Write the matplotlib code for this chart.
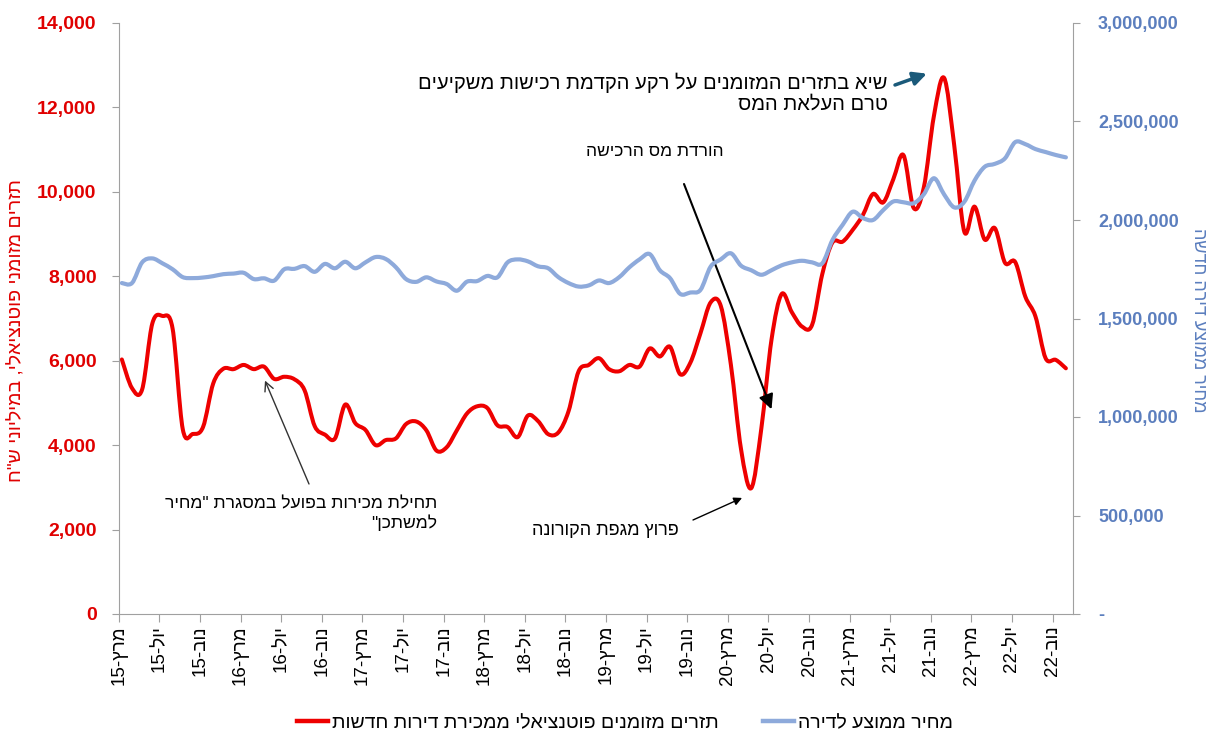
import re
import numpy as np
import matplotlib
matplotlib.use("Agg")
import matplotlib.pyplot as plt
from matplotlib.path import Path
from matplotlib.patches import PathPatch
from matplotlib.lines import Line2D
from matplotlib.ticker import FuncFormatter, MultipleLocator

plt.rcParams['font.family'] = ['Liberation Sans', 'DejaVu Sans']

# ---------------- data (monthly, Mar-2015 .. Dec-2022) ----------------
cash_flow = [6030, 5350, 5320, 6880, 7060, 6760, 4380, 4265, 4430, 5460,
             5810, 5800, 5900, 5800, 5860, 5570, 5620, 5560, 5300, 4450,
             4250, 4160, 4960, 4520, 4360, 4000, 4120, 4160, 4500, 4560,
             4350, 3870, 3950, 4350, 4750, 4920, 4880, 4470, 4430, 4190,
             4700, 4570, 4260, 4300, 4800, 5750, 5900, 6060, 5800, 5750,
             5900, 5860, 6290, 6100, 6330, 5680, 5950, 6650, 7380, 7300,
             5900, 3900, 2980, 4400, 6500, 7580, 7150, 6810, 6850, 8050,
             8800, 8820, 9100, 9450, 9950, 9750, 10300, 10870, 9620, 10100,
             11800, 12700, 11100, 9050, 9650, 8870, 9140, 8320, 8340, 7520,
             7050, 6060, 6020, 5820]

avg_price = [1680, 1680, 1785, 1805, 1780, 1750, 1710, 1705, 1708, 1715,
             1725, 1728, 1732, 1700, 1704, 1692, 1750, 1752, 1766, 1737,
             1777, 1755, 1788, 1755, 1785, 1812, 1802, 1760, 1700, 1686,
             1709, 1688, 1675, 1641, 1687, 1690, 1716, 1709, 1785, 1800,
             1790, 1765, 1755, 1710, 1680, 1662, 1668, 1693, 1680, 1710,
             1760, 1800, 1827, 1745, 1705, 1625, 1632, 1645, 1763, 1800,
             1831, 1768, 1745, 1722, 1745, 1770, 1785, 1793, 1785, 1780,
             1898, 1975, 2042, 2010, 2000, 2050, 2094, 2090, 2085, 2130,
             2212, 2130, 2064, 2093, 2200, 2270, 2285, 2313, 2395, 2385,
             2360, 2345, 2330, 2318]
avg_price = [v * 1000 for v in avg_price]

tick_labels = ["מרץ-15", "יול-15", "נוב-15", "מרץ-16", "יול-16", "נוב-16",
               "מרץ-17", "יול-17", "נוב-17", "מרץ-18", "יול-18", "נוב-18",
               "מרץ-19", "יול-19", "נוב-19", "מרץ-20", "יול-20", "נוב-20",
               "מרץ-21", "יול-21", "נוב-21", "מרץ-22", "יול-22", "נוב-22"]

label_left = 'תזרים מזומני פוטנציאלי, במיליוני ש"ח'
label_right = "מחיר ממוצע דירה חדשה"
legend_red = "תזרים מזומנים פוטנציאלי ממכירת דירות חדשות"
legend_blue = "מחיר ממוצע לדירה"
note_peak = "שיא בתזרים המזומנים על רקע הקדמת רכישות משקיעים\nטרם העלאת המס"
note_tax = "הורדת מס הרכישה"
note_mehir = 'תחילת מכירות בפועל במסגרת "מחיר\nלמשתכן"'
note_corona = "פרוץ מגפת הקורונה"


def vis(s):
    """visual (LTR drawing) order for right-to-left Hebrew text"""
    out = []
    for line in s.split("\n"):
        r = line[::-1]
        r = re.sub(r'[0-9A-Za-z]+', lambda m: m.group(0)[::-1], r)
        out.append(r)
    return "\n".join(out)


def smooth_path(xs, ys):
    P = np.column_stack([xs, ys]).astype(float)
    n = len(P)
    verts = [P[0]]
    codes = [Path.MOVETO]
    for i in range(n - 1):
        p0 = P[i - 1] if i > 0 else P[i]
        p1 = P[i]
        p2 = P[i + 1]
        p3 = P[i + 2] if i + 2 < n else P[i + 1]
        verts += [p1 + (p2 - p0) / 6.0, p2 - (p3 - p1) / 6.0, p2]
        codes += [Path.CURVE4] * 3
    return Path(verts, codes)


RED = '#EE0000'
RED_TXT = '#E00000'
BLUE = '#8EAADB'
BLUE_TXT = '#5B7EBE'
GREY = '#A0A0A0'

W, H = 1206, 734
fig = plt.figure(figsize=(W / 100, H / 100), dpi=100)
ax = fig.add_axes([118.8 / W, 120 / H, (1073 - 118.8) / W, 591 / H])
ax2 = ax.twinx()

n = len(cash_flow)
xs = np.arange(n) + 0.3

ax.add_patch(PathPatch(smooth_path(xs, cash_flow), fill=False, edgecolor=RED,
                       lw=2.9, capstyle='round', joinstyle='round'))
ax2.add_patch(PathPatch(smooth_path(xs, avg_price), fill=False, edgecolor=BLUE,
                        lw=3.0, capstyle='round', joinstyle='round'))

ax.set_xlim(0, 94)
ax.set_ylim(0, 14000)
ax2.set_ylim(0, 3000000)

ax.yaxis.set_major_locator(MultipleLocator(2000))
ax2.yaxis.set_major_locator(MultipleLocator(500000))
ax.yaxis.set_major_formatter(FuncFormatter(lambda v, p: f"{int(v):,}"))
ax2.yaxis.set_major_formatter(FuncFormatter(lambda v, p: f"{int(v):,}" if v > 0 else "-"))

ax.set_xticks(np.arange(0, n, 4))
ax.set_xticklabels([vis(t) for t in tick_labels], rotation=90, fontsize=13.5)

for a in (ax, ax2):
    for s in a.spines.values():
        s.set_color(GREY)
    a.spines['top'].set_visible(False)
ax.spines['right'].set_visible(False)
ax2.spines['left'].set_visible(False)
ax2.spines['bottom'].set_visible(False)

ax.tick_params(axis='y', colors=GREY, length=5, pad=11, labelsize=14,
               labelcolor=RED_TXT)
for t in ax.get_yticklabels():
    t.set_fontweight('bold')
ax2.tick_params(axis='y', colors=GREY, length=5, pad=13, labelsize=13,
                labelcolor=BLUE_TXT)
for t in ax2.get_yticklabels():
    t.set_fontweight('bold')
ax.tick_params(axis='x', colors=GREY, length=6, pad=2, labelcolor='black')

fig.text(17 / W, 1 - 330 / H, vis(label_left), rotation=90, ha='center',
         va='center', color=RED_TXT, fontsize=14)
fig.text(1199 / W, 1 - 320 / H, vis(label_right), rotation=270, ha='center',
         va='center', color=BLUE_TXT, fontsize=13)

# ---------------- annotations ----------------
def fpx(x, y):
    return (x, H - y)

fig.text(888 / W, 1 - 93 / H, vis(note_peak), ha='right', va='center',
         multialignment='right', fontsize=14.5, linespacing=1.15)
ax.annotate("", xy=(79.6, 12800), xycoords='data',
            xytext=fpx(895, 85), textcoords='figure pixels',
            arrowprops=dict(arrowstyle='-|>', color='#1B5A7A', lw=2.5,
                            mutation_scale=20, shrinkA=0, shrinkB=0))

fig.text(655 / W, 1 - 152 / H, vis(note_tax), ha='center', va='center',
         fontsize=12.5)
ax.annotate("", xy=(64.3, 4850), xycoords='data',
            xytext=fpx(684, 184), textcoords='figure pixels',
            arrowprops=dict(arrowstyle='-|>', color='black', lw=1.5,
                            mutation_scale=22, shrinkA=0, shrinkB=0))

fig.text(437 / W, 1 - 514 / H, vis(note_mehir), ha='right', va='center',
         multialignment='right', fontsize=12.6, linespacing=1.25)
ax.annotate("", xy=(14.4, 5530), xycoords='data',
            xytext=fpx(309, 484), textcoords='figure pixels',
            arrowprops=dict(arrowstyle='->', color='#333333', lw=1.0,
                            mutation_scale=16, shrinkA=0, shrinkB=0))

fig.text(605 / W, 1 - 530 / H, vis(note_corona), ha='center', va='center',
         fontsize=13)
ax.annotate("", xy=(61.4, 2750), xycoords='data',
            xytext=fpx(693, 520), textcoords='figure pixels',
            arrowprops=dict(arrowstyle='-|>', color='black', lw=1.0,
                            mutation_scale=12, shrinkA=0, shrinkB=0))

# ---------------- legend ----------------
handles = [Line2D([], [], color=RED, lw=3.2), Line2D([], [], color=BLUE, lw=3.2)]
fig.legend(handles, [vis(legend_red), vis(legend_blue)], loc='center',
           bbox_to_anchor=(625 / W, 11 / H), ncol=2, frameon=False, fontsize=14,
           handlelength=1.6, handletextpad=0.2, columnspacing=2.3,
           borderpad=0.0, borderaxespad=0.0)

fig.savefig("out.png", dpi=100)
